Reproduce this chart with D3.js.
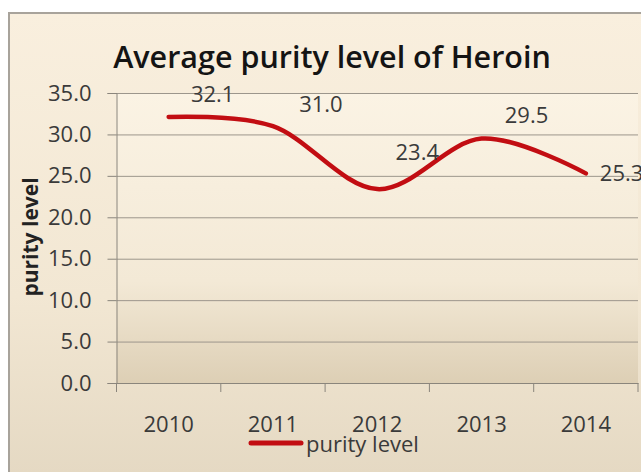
<!DOCTYPE html>
<html><head><meta charset="utf-8">
<script src="https://cdn.jsdelivr.net/npm/d3@7/dist/d3.min.js"></script>
<style>html,body{margin:0;padding:0;background:#fff;}svg{display:block;}</style>
</head><body>
<script>
const years = ["2010","2011","2012","2013","2014"];
const purity = [32.1, 31.0, 23.4, 29.5, 25.3];
const yTicks = [0,5,10,15,20,25,30,35];
const labelDx = [44, 48, 40, 45, 14];
const labelDy = [-15, -14, -29, -16, 8];
const labelAnchor = ["middle","middle","middle","middle","start"];
const title = "Average purity level of Heroin";
const seriesName = "purity level";

(function(){
const W = 641, H = 472;
const FONT = "'Open Sans', sans-serif";
const svg = d3.select("body").append("svg").attr("width", W).attr("height", H);
const defs = svg.append("defs");
const g1 = defs.append("linearGradient").attr("id","bg").attr("x1",0).attr("y1",0).attr("x2",0).attr("y2",1);
g1.append("stop").attr("offset","0%").attr("stop-color","#f9efde");
g1.append("stop").attr("offset","60%").attr("stop-color","#f2e7d3");
g1.append("stop").attr("offset","100%").attr("stop-color","#e4d8c2");
const g2 = defs.append("linearGradient").attr("id","pbg").attr("x1",0).attr("y1",0).attr("x2",0).attr("y2",1);
g2.append("stop").attr("offset","0%").attr("stop-color","#fbf3e4");
g2.append("stop").attr("offset","65%").attr("stop-color","#f3e9d6");
g2.append("stop").attr("offset","100%").attr("stop-color","#ddcfb5");

svg.append("rect").attr("x",9).attr("y",13).attr("width",W).attr("height",H)
  .attr("fill","url(#bg)").attr("stroke","#a8a39b").attr("stroke-width",2);

const pL = 116.5, pR = 638, pT = 93, pB = 383;
const x = d3.scaleBand().domain(years).range([pL, pR]);
const y = d3.scaleLinear().domain([0,35]).range([pB, pT]);

svg.append("rect").attr("x",pL).attr("y",pT).attr("width",pR-pL).attr("height",pB-pT)
  .attr("fill","url(#pbg)");

svg.append("g").selectAll("line").data(yTicks.filter(d=>d>0)).join("line")
  .attr("x1",pL).attr("x2",pR).attr("y1",d=>y(d)+0.5).attr("y2",d=>y(d)+0.5)
  .attr("stroke","#9c968c").attr("stroke-width",1);

const ya = svg.append("g").attr("transform",`translate(${pL},0)`)
  .call(d3.axisLeft(y).tickValues(yTicks).tickFormat(d3.format(".1f")).tickSize(9).tickPadding(16));
ya.select(".domain").attr("stroke","#8a857c");
ya.selectAll(".tick line").attr("stroke","#8a857c");
ya.selectAll("text").attr("font-family",FONT).attr("font-size",22).attr("fill","#3a3a3a");

const xa = svg.append("g").attr("transform",`translate(0,${pB})`)
  .call(d3.axisBottom(x).tickSize(0));
xa.select(".domain").attr("stroke","#8a857c");
xa.selectAll("text").attr("font-family",FONT).attr("font-size",22).attr("fill","#3a3a3a")
  .attr("y",49).attr("dy",0);
svg.append("g").selectAll("line").data(years.map(d=>x(d)).concat([pR])).join("line")
  .attr("x1",d=>d).attr("x2",d=>d).attr("y1",pB).attr("y2",pB+9)
  .attr("stroke","#8a857c");

const line = d3.line().x((d,i)=>x(years[i])+x.bandwidth()/2).y(d=>y(d)).curve(d3.curveCatmullRom.alpha(0));
svg.append("path").datum(purity).attr("d",line).attr("fill","none")
  .attr("stroke","#c20d12").attr("stroke-width",4.5).attr("stroke-linecap","round");

svg.append("g").selectAll("text").data(purity).join("text")
  .attr("x",(d,i)=>x(years[i])+x.bandwidth()/2+labelDx[i])
  .attr("y",(d,i)=>y(d)+labelDy[i])
  .attr("text-anchor",(d,i)=>labelAnchor[i])
  .attr("font-family",FONT).attr("font-size",22).attr("fill","#3a3a3a")
  .text(d=>d3.format(".1f")(d));

svg.append("text").attr("x",332).attr("y",68).attr("text-anchor","middle")
  .attr("font-family",FONT).attr("font-weight","600").attr("font-size",30.5).attr("fill","#141414")
  .text(title);

svg.append("text").attr("transform","translate(38,237) rotate(-90)").attr("text-anchor","middle")
  .attr("font-family",FONT).attr("font-weight","bold").attr("font-size",21).attr("fill","#222")
  .text(seriesName);

svg.append("line").attr("x1",251).attr("x2",301).attr("y1",443).attr("y2",443)
  .attr("stroke","#c20d12").attr("stroke-width",5).attr("stroke-linecap","round");
svg.append("text").attr("x",306).attr("y",452)
  .attr("font-family",FONT).attr("font-size",22).attr("fill","#3a3a3a").text(seriesName);
})();
</script>
</body></html>
